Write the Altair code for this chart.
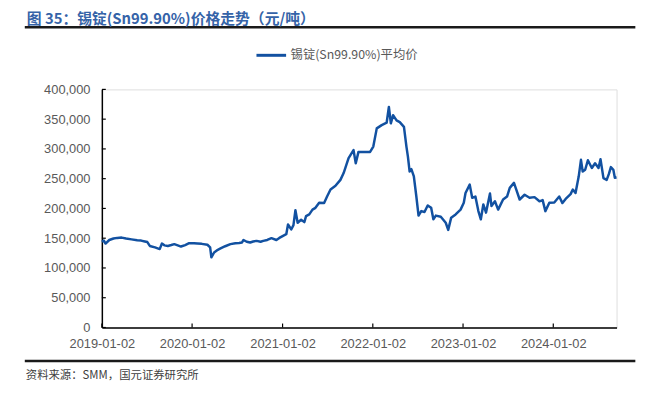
import altair as alt
import pandas as pd

# ---- data ----
dates = [
    "2019-01-02", "2019-01-10", "2019-01-17", "2019-02-01", "2019-02-18", "2019-03-05",
    "2019-03-23", "2019-04-10", "2019-05-02", "2019-05-25", "2019-06-10", "2019-06-25",
    "2019-07-05", "2019-07-15", "2019-08-05", "2019-08-24", "2019-09-02", "2019-09-12",
    "2019-09-26", "2019-10-10", "2019-10-22", "2019-11-05", "2019-11-18", "2019-12-05",
    "2019-12-21", "2020-01-10", "2020-01-24", "2020-02-10", "2020-03-04", "2020-03-15",
    "2020-03-20", "2020-03-31", "2020-04-15", "2020-04-26", "2020-05-15", "2020-06-05",
    "2020-06-25", "2020-07-10", "2020-07-22", "2020-07-28", "2020-08-10", "2020-08-24",
    "2020-09-05", "2020-09-19", "2020-10-05", "2020-10-16", "2020-11-01", "2020-11-18",
    "2020-12-08", "2020-12-20", "2021-01-04", "2021-01-17", "2021-01-24", "2021-02-06",
    "2021-02-15", "2021-02-23", "2021-03-04", "2021-03-18", "2021-03-31", "2021-04-07",
    "2021-04-20", "2021-05-03", "2021-05-15", "2021-05-30", "2021-06-19", "2021-07-01",
    "2021-07-15", "2021-08-04", "2021-08-24", "2021-09-06", "2021-09-16", "2021-09-26",
    "2021-10-16", "2021-10-25", "2021-11-05", "2021-12-02", "2021-12-22", "2022-01-04",
    "2022-01-18", "2022-02-07", "2022-02-27", "2022-03-08", "2022-03-16", "2022-03-25",
    "2022-04-08", "2022-04-21", "2022-05-08", "2022-05-18", "2022-05-24", "2022-05-31",
    "2022-06-07", "2022-06-17", "2022-06-27", "2022-07-06", "2022-07-17", "2022-07-30",
    "2022-08-12", "2022-08-26", "2022-09-04", "2022-09-14", "2022-10-04", "2022-10-24",
    "2022-11-03", "2022-11-15", "2022-12-03", "2022-12-23", "2023-01-05", "2023-01-12",
    "2023-01-29", "2023-02-08", "2023-02-21", "2023-03-05", "2023-03-15", "2023-03-25",
    "2023-04-05", "2023-04-21", "2023-04-27", "2023-05-11", "2023-05-24", "2023-06-13",
    "2023-06-29", "2023-07-10", "2023-07-27", "2023-08-05", "2023-08-19", "2023-09-08",
    "2023-09-28", "2023-10-18", "2023-11-07", "2023-11-20", "2023-12-01", "2023-12-17",
    "2024-01-06", "2024-01-26", "2024-02-08", "2024-02-21", "2024-03-12", "2024-03-21",
    "2024-04-01", "2024-04-14", "2024-04-23", "2024-04-30", "2024-05-10", "2024-05-21",
    "2024-06-06", "2024-06-19", "2024-07-03", "2024-07-11", "2024-07-23", "2024-08-05",
    "2024-08-14", "2024-08-22", "2024-09-01", "2024-09-07", "2024-09-14",
]
prices = [
    144000, 146000, 141000, 147000, 149500, 150500,
    151000, 149500, 148000, 146500, 146000, 144500,
    143500, 137000, 134500, 131700, 141000, 138000,
    137000, 138500, 140000, 138000, 136000, 138500,
    141700, 141500, 141000, 140500, 139000, 134700,
    117800, 126000, 130500, 132800, 136500, 140000,
    141500, 142000, 142800, 147000, 144000, 142800,
    144500, 145500, 144000, 145500, 147000, 150000,
    147000, 150500, 154000, 156700, 173000, 164700,
    172000, 197000, 176000, 181000, 177000, 187000,
    190000, 198000, 201000, 209500, 209000, 220000,
    231700, 238000, 248000, 259500, 272000, 284500,
    298000, 276000, 295000, 295000, 295000, 304000,
    334500, 340000, 344000, 370500, 343000, 356700,
    348000, 345000, 337000, 304000, 287000, 262000,
    266000, 254000, 220500, 188000, 195500, 194000,
    205000, 201000, 181700, 188000, 186000, 176000,
    164000, 184500, 190000, 198000, 209500, 226000,
    240000, 218000, 220000, 195500, 181700, 206700,
    193000, 225000, 204000, 212000, 198000, 215000,
    220000, 234500, 243000, 232000, 215000, 223000,
    218000, 219000, 212000, 214000, 195500, 209500,
    210000, 220000, 209000, 216000, 224000, 231700,
    226000, 254000, 281700, 262000, 265000, 281000,
    268000, 276000, 268000, 282800, 251000, 248000,
    258000, 269500, 265000, 251700, 252000,
]
series_name = "锡锭(Sn99.90%)平均价"
x_tick_dates = ["2019-01-02", "2020-01-02", "2021-01-02", "2022-01-02", "2023-01-02", "2024-01-02"]
y_tick_values = [0, 50000, 100000, 150000, 200000, 250000, 300000, 350000, 400000]
x_domain = ["2019-01-02", "2024-09-14"]
y_domain = [0, 400000]

title_text = "图 35：锡锭(Sn99.90%)价格走势（元/吨）"
source_text = "资料来源：SMM，国元证券研究所"

# ---- style ----
LINE_COLOR = "#1251A1"
TITLE_COLOR = "#3563A8"
LABEL_COLOR = "#595959"
W, H = 521, 241

df = pd.DataFrame({"date": dates, "value": prices, "series": series_name})
xt_df = pd.DataFrame({"date": x_tick_dates})
yt_df = pd.DataFrame({"value": y_tick_values})
dummy = pd.DataFrame({"k": [0]})


def dt(s):
    y, m, d = (int(p) for p in s.split("-"))
    return alt.DateTime(year=y, month=m, date=d, utc=True)


x_scale = alt.Scale(type="utc", domain=[dt(s) for s in x_domain], nice=False)
y_scale = alt.Scale(domain=y_domain, nice=False, zero=True)

x_axis = alt.Axis(
    values=[dt(s) for s in x_tick_dates], format="%Y-%m-%d", title=None,
    labelFont="Liberation Sans", labelFontSize=13, labelColor=LABEL_COLOR,
    labelPadding=10, labelFlush=False, labelOverlap=False, labelBound=False,
    ticks=False, grid=False, domainColor="#000000", domainWidth=1.5,
)
y_axis = alt.Axis(
    values=y_tick_values, format=",.0f", title=None,
    labelFont="Liberation Sans", labelFontSize=13, labelColor=LABEL_COLOR,
    labelPadding=12, labelFlush=False, labelOverlap=False,
    ticks=False, grid=False, domainColor="#000000", domainWidth=1.5,
)

line = alt.Chart(df).mark_line(strokeWidth=2.5, strokeJoin="round").encode(
    x=alt.X("date:T", scale=x_scale, axis=x_axis),
    y=alt.Y("value:Q", scale=y_scale, axis=y_axis),
    color=alt.Color(
        "series:N",
        scale=alt.Scale(range=[LINE_COLOR]),
        legend=alt.Legend(
            title=None, orient="none", legendX=155, legendY=-51, padding=0,
            symbolType="stroke", symbolSize=900, symbolStrokeWidth=3,
            labelFont="Noto Sans CJK SC", labelFontSize=12.5, labelColor=LABEL_COLOR,
            labelOffset=3,
        ),
    ),
)

y_ticks = alt.Chart(yt_df).mark_rule(color="#000000", strokeWidth=1.2).encode(
    y=alt.Y("value:Q", scale=y_scale, axis=y_axis), x=alt.value(0), x2=alt.value(4)
)
x_ticks = alt.Chart(xt_df).mark_rule(color="#000000", strokeWidth=1.2).encode(
    x=alt.X("date:T", scale=x_scale, axis=x_axis), y=alt.value(H), y2=alt.value(H - 4)
)

top_rule = alt.Chart(dummy).mark_rule(color="#1a1a1a", strokeWidth=2.5).encode(
    x=alt.value(-78), x2=alt.value(540), y=alt.value(-63)
)
bottom_rule = alt.Chart(dummy).mark_rule(color="#1a1a1a", strokeWidth=2.5).encode(
    x=alt.value(-78), x2=alt.value(540), y=alt.value(275)
)
title = alt.Chart(dummy).mark_text(
    align="left", baseline="middle", font="Noto Sans CJK SC", fontSize=15,
    fontWeight="bold", color=TITLE_COLOR,
).encode(x=alt.value(-76), y=alt.value(-71.5), text=alt.value(title_text))
source = alt.Chart(dummy).mark_text(
    align="left", baseline="middle", font="Noto Sans CJK SC", fontSize=11.5,
    color="#404040",
).encode(x=alt.value(-77), y=alt.value(290.5), text=alt.value(source_text))

chart = alt.layer(line, y_ticks, x_ticks, top_rule, bottom_rule, title, source).properties(
    width=W, height=H,
    autosize=alt.AutoSizeParams(type="none"),
    padding={"left": 95, "top": 80, "right": 47, "bottom": 70},
).configure_view(stroke=None).configure(background="#ffffff")

chart.save("out.html", embed_options={"renderer": "svg", "actions": False})
